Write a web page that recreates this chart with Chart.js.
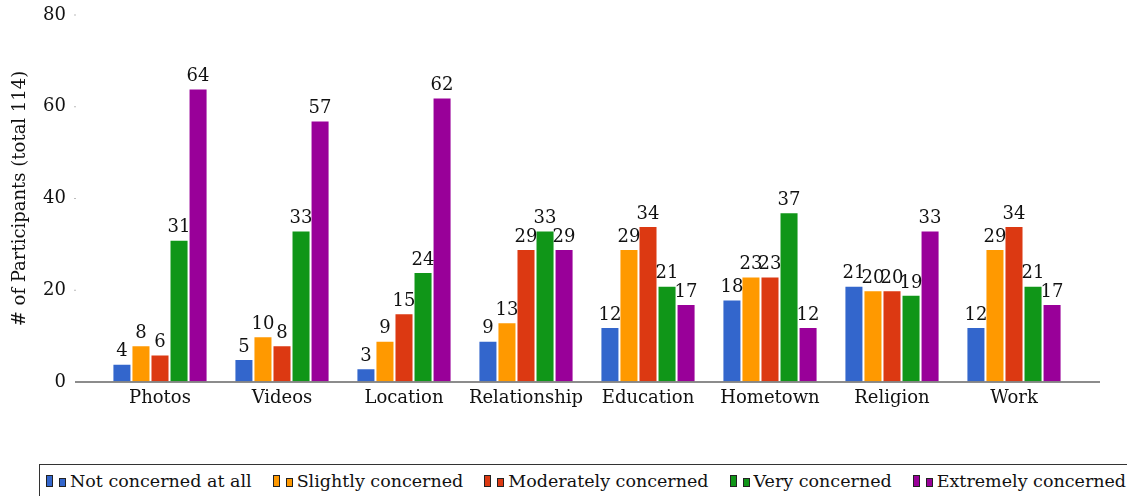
<!DOCTYPE html>
<html>
<head>
<meta charset="utf-8">
<script src="https://cdn.jsdelivr.net/npm/chart.js@4/dist/chart.umd.min.js"></script>
<style>
  body { margin: 0; background: #fff; width: 1127px; height: 496px; overflow: hidden; position: relative; font-family: "DejaVu Serif", serif; }
  #wrap { position: absolute; left: 0; top: 0; width: 1127px; height: 460px; }
  #legend { position: absolute; left: 39px; top: 464px; width: 1200px; height: 40px; border: 1px solid #333; box-sizing: border-box; display: flex; align-items: flex-start; padding-left: 6px; padding-top: 6px; font-size: 17.5px; color: #111; white-space: nowrap; }
  .item { display: flex; align-items: center; margin-right: 21px; }
  .ico { display: inline-block; width: 5px; border: 1px solid #222; margin-right: 6px; }
  .ico.big { height: 10px; }
  .ico.small { height: 7px; margin-top: 3px; margin-right: 4px; }
</style>
</head>
<body>
<div id="wrap"><canvas id="chart"></canvas></div>
<div id="legend"></div>
<script>
const categories = ['Photos', 'Videos', 'Location', 'Relationship', 'Education', 'Hometown', 'Religion', 'Work'];
const seriesNames = ['Not concerned at all', 'Slightly concerned', 'Moderately concerned', 'Very concerned', 'Extremely concerned'];
const seriesColors = ['#3366cc', '#ff9900', '#dc3912', '#109618', '#990099'];

const notConcerned = [4, 5, 3, 9, 12, 18, 21, 12];
const slightly = [8, 10, 9, 13, 29, 23, 20, 29];
const moderately = [6, 8, 15, 29, 34, 23, 20, 34];
const very = [31, 33, 24, 33, 21, 37, 19, 21];
const extremely = [64, 57, 62, 29, 17, 12, 33, 17];

const yTicks = [0, 20, 40, 60, 80];

const allSeries = [notConcerned, slightly, moderately, very, extremely];

// value labels above each bar
const valueLabels = {
  id: 'valueLabels',
  afterDraw(chart) {
    const ctx = chart.ctx;
    ctx.save();
    ctx.font = '18px "DejaVu Serif"';
    ctx.fillStyle = '#111';
    ctx.textAlign = 'center';
    ctx.textBaseline = 'bottom';
    chart.data.datasets.forEach((ds, i) => {
      chart.getDatasetMeta(i).data.forEach((bar, j) => {
        ctx.fillText(String(ds.data[j]), bar.x, bar.y - 3);
      });
    });
    ctx.restore();
  }
};

// baseline and little tick dots, a bit wider than the plot area
const baseline = {
  id: 'baseline',
  afterDraw(chart) {
    const ctx = chart.ctx;
    const area = chart.chartArea;
    const y = chart.scales.y;
    ctx.save();
    ctx.strokeStyle = '#666';
    ctx.lineWidth = 1.5;
    const y0 = y.getPixelForValue(0);
    ctx.beginPath();
    ctx.moveTo(area.left - 24, y0);
    ctx.lineTo(area.right + 25, y0);
    ctx.stroke();
    ctx.strokeStyle = '#bbb';
    ctx.lineWidth = 1;
    yTicks.slice(1).forEach(v => {
      const py = y.getPixelForValue(v);
      ctx.beginPath();
      ctx.moveTo(area.left - 25, py);
      ctx.lineTo(area.left - 23, py);
      ctx.stroke();
    });
    ctx.restore();
  }
};

new Chart(document.getElementById('chart'), {
  type: 'bar',
  data: {
    labels: categories,
    datasets: allSeries.map((vals, i) => ({
      label: seriesNames[i],
      data: vals,
      backgroundColor: seriesColors[i],
      borderColor: 'rgba(255,255,255,0.3)',
      borderWidth: 1,
      categoryPercentage: 0.78,
      barPercentage: 1.0
    }))
  },
  options: {
    responsive: true,
    maintainAspectRatio: false,
    animation: false,
    layout: { padding: { top: 15, right: 52, left: 0, bottom: 0 } },
    plugins: { legend: { display: false }, tooltip: { enabled: false } },
    scales: {
      x: {
        grid: { display: false, drawTicks: false },
        border: { display: false },
        ticks: { font: { family: 'DejaVu Serif', size: 18 }, color: '#111', padding: 6 },
        afterFit: s => { s.height = 78; }
      },
      y: {
        min: 0,
        max: 80,
        z: 1,
        afterBuildTicks: s => { s.ticks = yTicks.map(v => ({ value: v })); },
        ticks: { font: { family: 'DejaVu Serif', size: 18 }, color: '#111', padding: 2 },
        grid: { color: 'rgba(255,255,255,0.55)', lineWidth: 1.2, drawTicks: true, tickLength: 31, tickColor: 'rgba(0,0,0,0)' },
        border: { display: false },
        title: {
          display: true,
          text: '# of Participants (total 114)',
          font: { family: 'DejaVu Serif', size: 18 },
          color: '#111',
          padding: { top: 10, bottom: 0 }
        },
        afterFit: s => { s.width = 99; }
      }
    }
  },
  plugins: [valueLabels, baseline]
});

// legend below the chart
const legend = document.getElementById('legend');
seriesNames.forEach((name, i) => {
  const item = document.createElement('span');
  item.className = 'item';
  const a = document.createElement('span');
  a.className = 'ico big';
  a.style.background = seriesColors[i];
  const b = document.createElement('span');
  b.className = 'ico small';
  b.style.background = seriesColors[i];
  const t = document.createElement('span');
  t.textContent = name;
  item.appendChild(a);
  item.appendChild(b);
  item.appendChild(t);
  legend.appendChild(item);
});
</script>
</body>
</html>
